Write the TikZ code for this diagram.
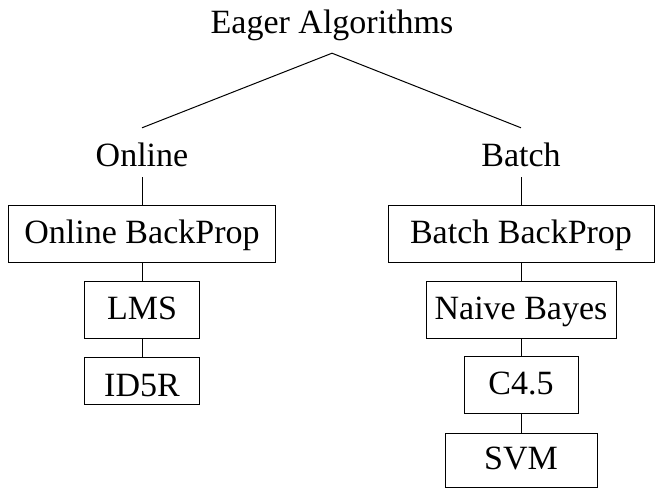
\documentclass[tikz,border=0pt]{standalone}
\usepackage{fontspec}
\setmainfont{Liberation Serif}
\begin{document}
\begin{tikzpicture}[x=1pt,y=-1pt,
  every node/.style={font=\fontsize{34}{40}\selectfont},
  branch/.style={inner xsep=0pt, inner ysep=11pt, text height=27pt, text depth=0pt, anchor=base},
  algbox/.style={draw, line width=1pt, inner sep=0pt, text height=24pt, text depth=5pt, minimum height=57pt},
  connector/.style={line width=1pt}]
\useasboundingbox (0,0) rectangle (655,488);

% root and the two branches
\node[branch, inner ysep=13pt, text height=24pt, text depth=7pt] (root) at (332,33) {Eager Algorithms};
\node[branch] (online) at (142,166) {Online};
\node[branch] (batch) at (521,166) {Batch};

% online column
\node[algbox, minimum width=267pt] (obp) at (142,233.5) {Online BackProp};
\node[algbox, minimum width=115pt] (lms) at (142,309.5) {LMS};
\node[algbox, minimum width=115pt, minimum height=47pt, text height=31pt, text depth=0pt] (id5r) at (142,380.5) {ID5R};

% batch column
\node[algbox, minimum width=266pt] (bbp) at (521,233.5) {Batch BackProp};
\node[algbox, minimum width=190pt] (nb) at (521,309.5) {Naive Bayes};
\node[algbox, minimum width=114pt] (c45) at (521,384.5) {C4.5};
\node[algbox, minimum width=152pt, minimum height=54pt] (svm) at (521,460) {SVM};

% connectors
\draw[connector] (online.north) -- (root.south) -- (batch.north);
\draw[connector] (online.south) -- (obp.north)
                 (obp.south) -- (lms.north)
                 (lms.south) -- (id5r.north);
\draw[connector] (batch.south) -- (bbp.north)
                 (bbp.south) -- (nb.north)
                 (nb.south) -- (c45.north)
                 (c45.south) -- (svm.north);
\end{tikzpicture}
\end{document}
